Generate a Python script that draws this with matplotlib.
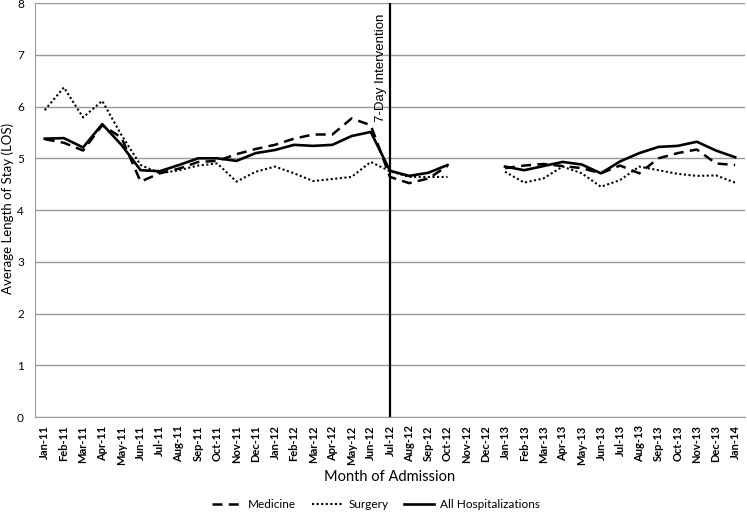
import numpy as np
import matplotlib.pyplot as plt

months = ["Jan-11", "Feb-11", "Mar-11", "Apr-11", "May-11", "Jun-11", "Jul-11",
          "Aug-11", "Sep-11", "Oct-11", "Nov-11", "Dec-11", "Jan-12", "Feb-12",
          "Mar-12", "Apr-12", "May-12", "Jun-12", "Jul-12", "Aug-12", "Sep-12",
          "Oct-12", "Nov-12", "Dec-12", "Jan-13", "Feb-13", "Mar-13", "Apr-13",
          "May-13", "Jun-13", "Jul-13", "Aug-13", "Sep-13", "Oct-13", "Nov-13",
          "Dec-13", "Jan-14"]
nan = np.nan
medicine = [5.37, 5.30, 5.15, 5.64, 5.40, 4.55, 4.71, 4.80, 4.93, 4.95, 5.08, 5.18,
            5.26, 5.38, 5.46, 5.46, 5.77, 5.64, 4.64, 4.52, 4.61, 4.85, nan, nan,
            4.81, 4.86, 4.89, 4.85, 4.81, 4.71, 4.86, 4.71, 5.00, 5.10, 5.17,
            4.90, 4.87]
surgery = [5.93, 6.37, 5.79, 6.11, 5.45, 4.87, 4.71, 4.77, 4.86, 4.90, 4.55, 4.74,
           4.84, 4.71, 4.56, 4.60, 4.64, 4.93, 4.75, 4.64, 4.64, 4.64, nan, nan,
           4.74, 4.53, 4.61, 4.84, 4.71, 4.45, 4.58, 4.84, 4.77, 4.70, 4.66,
           4.67, 4.53]
all_hosp = [5.38, 5.39, 5.21, 5.66, 5.26, 4.77, 4.75, 4.87, 5.00, 5.00, 4.95, 5.10,
            5.16, 5.26, 5.24, 5.26, 5.43, 5.51, 4.76, 4.66, 4.72, 4.87, nan, nan,
            4.84, 4.77, 4.85, 4.93, 4.88, 4.71, 4.94, 5.10, 5.22, 5.24, 5.32,
            5.15, 5.02]
intervention = "Jul-12"

plt.rcParams['font.family'] = ['Lato', 'DejaVu Sans']

x = np.arange(len(months))
fig = plt.figure(figsize=(7.47, 5.12), dpi=100)
ax = fig.add_axes([0.047, 0.1855, 0.95, 0.8085])

ax.plot(x, medicine, color='black', lw=1.8, ls=(0, (4, 2.5)), label="Medicine")
ax.plot(x, surgery, color='black', lw=1.5, ls=(0, (1, 1.2)), label="Surgery")
ax.plot(x, all_hosp, color='black', lw=1.9, ls='-', label="All Hospitalizations")

xi = months.index(intervention)
ax.axvline(xi, color='black', lw=1.6)
ax.text(xi - 0.15, 7.8, "7-Day Intervention", rotation=90, ha='right', va='top',
        fontsize=9.5, family=['Liberation Sans', 'DejaVu Sans'])

ax.set_xlim(-0.5, len(months) - 0.5)
ax.set_ylim(0, 8)
ax.set_yticks(range(0, 9))
ax.set_xticks(x)
ax.set_xticklabels(months, rotation=90, fontsize=8, fontweight='bold')
ax.tick_params(axis='y', labelsize=8.5, length=0, pad=8)
ax.tick_params(axis='x', length=0, pad=6)
ax.grid(axis='y', color='#999999', lw=1)
ax.set_axisbelow(True)
for s in ['top', 'right']:
    ax.spines[s].set_visible(False)
for s in ['left', 'bottom']:
    ax.spines[s].set_color('#999999')

fig.text(8 / 747, 0.5 + 0.1855 / 2, "Average Length of Stay (LOS)", rotation=90,
         ha='center', va='center', fontsize=9.5)
fig.text(390 / 747, 35 / 512, "Month of Admission", ha='center', va='center',
         fontsize=10.5)
fig.legend(loc='center', bbox_to_anchor=(376 / 747, 7 / 512), ncol=3, frameon=False,
           fontsize=8.5, handlelength=2.6, handletextpad=0.5, columnspacing=1.3,
           borderaxespad=0, borderpad=0)

fig.savefig('out.png', dpi=100)
